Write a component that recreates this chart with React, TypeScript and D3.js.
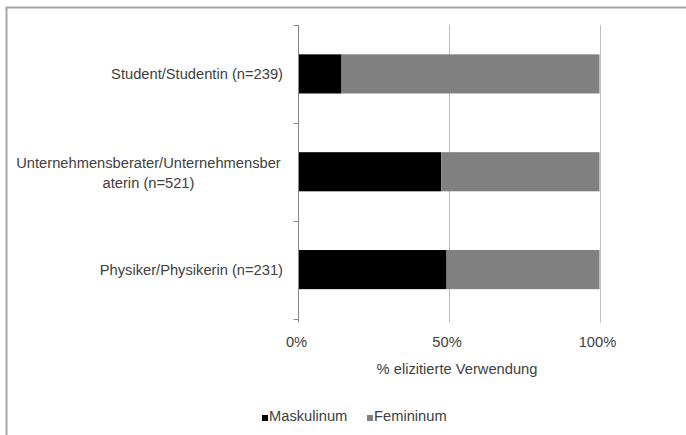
import React from "react";
import * as d3 from "d3";

const categories: string[][] = [
  ["Student/Studentin (n=239)"],
  ["Unternehmensberater/Unternehmensber", "aterin (n=521)"],
  ["Physiker/Physikerin (n=231)"],
];
const maskulinum = [0.143, 0.474, 0.492];
const femininum = [0.857, 0.526, 0.508];
const xTicks = [0, 0.5, 1];
const seriesNames = ["Maskulinum", "Femininum"];
const seriesColors = ["#000000", "#808080"];
const axisTitle = "% elizitierte Verwendung";

const W = 686;
const H = 435;
const FONT = "'Liberation Sans', Arial, sans-serif";
const FS = 14.7;

export default function App() {
  const left = 298.5;
  const right = 599.5;
  const top = 25;
  const bottom = 318.5;
  const x = d3.scaleLinear().domain([0, 1]).range([left, right]);
  const idx = categories.map((_, i) => String(i));
  const y = d3.scaleBand().domain(idx).range([top, bottom]).paddingInner(0.6).paddingOuter(0.3);
  const step = (bottom - top) / categories.length;
  const boundaries = d3.range(categories.length + 1).map((i) => top + i * step);

  return (
    <svg
      width={W}
      height={H}
      style={{ position: "absolute", left: 0, top: 0, background: "#fff" }}
      fontFamily={FONT}
      fontSize={FS}
    >
      <rect x={0} y={0} width={W} height={H} fill="#fff" />
      <rect x={6.5} y={7.5} width={W + 10} height={H + 10} fill="none" stroke="#a6a6a6" strokeWidth={2} />
      {/* gridlines */}
      {xTicks.slice(1).map((t) => (
        <line key={t} x1={Math.round(x(t)) + 0.5} x2={Math.round(x(t)) + 0.5} y1={top} y2={bottom + 4} stroke="#bfbfbf" strokeWidth={1} />
      ))}
      {/* bars */}
      {categories.map((_, i) => {
        const yy = y(String(i))!;
        const m = maskulinum[i];
        const f = femininum[i];
        return (
          <g key={i}>
            <rect x={x(0)} y={yy} width={x(m) - x(0)} height={y.bandwidth()} fill={seriesColors[0]} />
            <rect x={x(m)} y={yy} width={x(m + f) - x(m)} height={y.bandwidth()} fill={seriesColors[1]} />
          </g>
        );
      })}
      {/* left axis */}
      <line x1={left} x2={left} y1={top} y2={bottom + 4} stroke="#868686" strokeWidth={1} />
      {boundaries.map((b, i) => (
        <line key={i} x1={left - 5} x2={left} y1={Math.round(b) + 0.5} y2={Math.round(b) + 0.5} stroke="#868686" strokeWidth={1} />
      ))}
      {/* x tick labels */}
      {xTicks.map((t) => (
        <text key={t} x={x(t) - 2} y={347} textAnchor="middle" fill="#404040">
          {d3.format(".0%")(t)}
        </text>
      ))}
      <text x={(left + right) / 2 + 8} y={374} textAnchor="middle" fill="#404040">
        {axisTitle}
      </text>
      {/* category labels */}
      {categories.map((lines, i) => {
        const cy = y(String(i))! + y.bandwidth() / 2;
        if (lines.length === 1) {
          return (
            <text key={i} x={283} y={cy + 5} textAnchor="end" fill="#404040">
              {lines[0]}
            </text>
          );
        }
        return (
          <text key={i} x={148.5} y={cy - 4} textAnchor="middle" fill="#404040">
            {lines.map((l, j) => (
              <tspan key={j} x={148.5} dy={j === 0 ? 0 : 20}>
                {l}
              </tspan>
            ))}
          </text>
        );
      })}
      {/* legend */}
      {seriesNames.map((n, i) => {
        const lx = i === 0 ? 262 : 367;
        return (
          <g key={n}>
            <rect x={lx} y={415} width={6} height={6} fill={seriesColors[i]} />
            <text x={lx + 7} y={421} fill="#404040">
              {n}
            </text>
          </g>
        );
      })}
    </svg>
  );
}
